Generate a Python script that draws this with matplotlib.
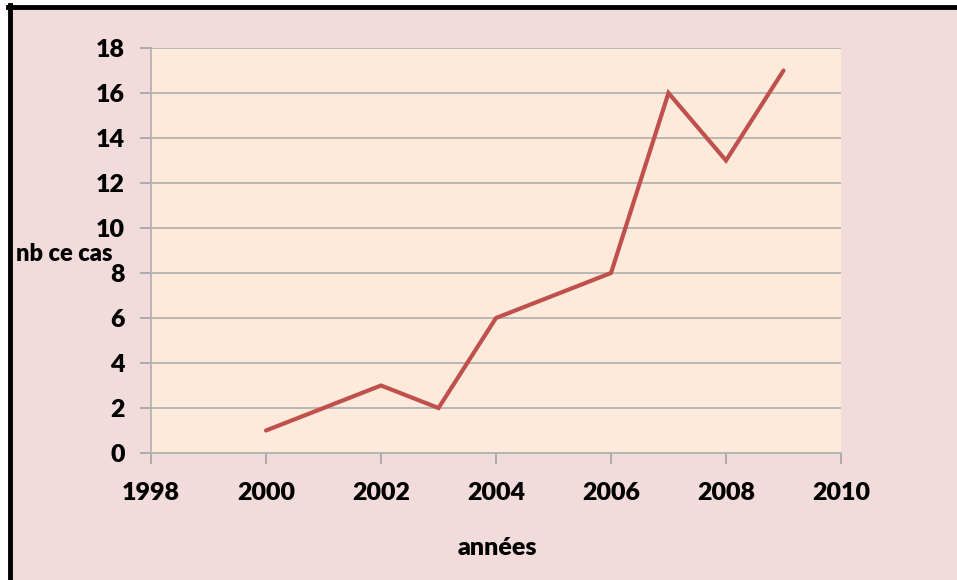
import matplotlib
matplotlib.use('Agg')
import matplotlib.pyplot as plt
from matplotlib.patches import Rectangle
from matplotlib.lines import Line2D

# data
annees = [2000, 2001, 2002, 2003, 2004, 2005, 2006, 2007, 2008, 2009]
nb_cas = [1, 2, 3, 2, 6, 7, 8, 16, 13, 17]
xticks = [1998, 2000, 2002, 2004, 2006, 2008, 2010]
yticks = [0, 2, 4, 6, 8, 10, 12, 14, 16, 18]

plt.rcParams['font.family'] = ['Lato', 'DejaVu Sans']
plt.rcParams['font.weight'] = 'heavy'

W, H = 957, 580
fig = plt.figure(figsize=(W / 100, H / 100), dpi=100)
fig.patch.set_facecolor('white')

# pink chart area + black frame (left and top visible)
fig.patches.append(Rectangle((8 / W, 0), 1, 1 - 6 / H, transform=fig.transFigure,
                             facecolor='#F2DCDB', edgecolor='none', zorder=-10))
fig.lines.append(Line2D([9.5 / W, 9.5 / W], [0, 1 - 5 / H], transform=fig.transFigure,
                        color='black', linewidth=3.5))
fig.lines.append(Line2D([8 / W, 1], [1 - 6.5 / H, 1 - 6.5 / H], transform=fig.transFigure,
                        color='black', linewidth=3.5))

ax = fig.add_axes([151 / W, 1 - 453 / H, (841 - 151) / W, (453 - 48) / H])
ax.set_facecolor('#FDEADA')

ax.plot(annees, nb_cas, color='#C0504D', linewidth=3, solid_capstyle='round',
        solid_joinstyle='miter', zorder=3)

ax.set_xlim(1998, 2010)
ax.set_ylim(0, 18)
ax.set_xticks(xticks)
ax.set_yticks(yticks)
ax.yaxis.grid(True, color='#B3B3B3', linewidth=1.3)
ax.set_axisbelow(True)

for side in ['top', 'right']:
    ax.spines[side].set_visible(False)
for side in ['left', 'bottom']:
    ax.spines[side].set_color('#B3B3B3')
    ax.spines[side].set_linewidth(1.3)

ax.tick_params(axis='both', colors='#A6A6A6', width=1.3, length=8, labelcolor='black',
               labelsize=18)
ax.tick_params(axis='y', pad=11)
ax.tick_params(axis='x', pad=13)
for lab in ax.get_xticklabels() + ax.get_yticklabels():
    lab.set_fontweight('heavy')

fig.text(16 / W, 1 - 254 / H, 'nb ce cas', fontsize=17, fontweight='heavy',
         ha='left', va='center')
fig.text(497 / W, 1 - 548 / H, 'années', fontsize=18, fontweight='heavy',
         ha='center', va='center')

fig.savefig('out.png', dpi=100, facecolor=fig.get_facecolor())
